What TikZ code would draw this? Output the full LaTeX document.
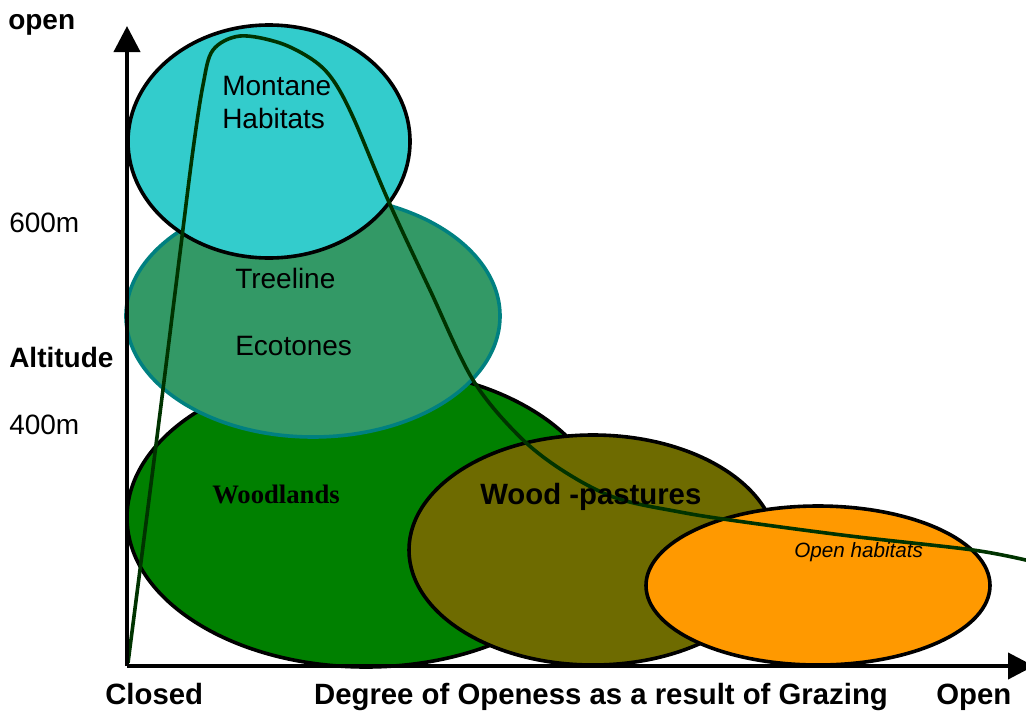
\documentclass[tikz,border=0pt]{standalone}
\usepackage{fontspec}
\setmainfont{Liberation Sans}
\newfontfamily\serifbold{Liberation Serif}
\usetikzlibrary{arrows.meta}
\definecolor{montane}{RGB}{51,204,204}
\definecolor{treeline}{RGB}{51,153,102}
\definecolor{treeedge}{RGB}{0,128,128}
\definecolor{woodland}{RGB}{0,128,0}
\definecolor{pasture}{RGB}{110,107,0}
\definecolor{openhab}{RGB}{255,153,0}
\definecolor{trend}{RGB}{0,51,0}
\begin{document}
\begin{tikzpicture}[x=0.75pt, y=-0.75pt,
	habitat/.style={line width=2.7pt, draw=black},
	axis/.style={line width=3pt, -{Triangle[width=19.5pt, length=19.5pt]}},
	big/.style={font=\fontsize{21}{25}\selectfont, inner sep=0pt, anchor=base west},
	bigbold/.style={big, font=\fontsize{21}{25}\selectfont\bfseries},
	axislabel/.style={big, font=\fontsize{22}{26}\selectfont\bfseries}]
			%%%%% START %%%%%
			
			\useasboundingbox (0, 0) rectangle (1026, 711);
			
			\draw[habitat, fill=woodland] (366, 517.5) ellipse (239 and 149.5);
			\draw[habitat, fill=treeline, draw=treeedge] (313, 316) ellipse (187 and 121);
			\draw[habitat, fill=montane] (269, 141.5) ellipse (141 and 116.5);
			\draw[habitat, fill=pasture] (593, 550) ellipse (184 and 115);
			\draw[habitat, fill=openhab] (818, 585.5) ellipse (172 and 79.5);
			
			\draw[line width=2.7pt, color=trend, line join=round] plot[smooth, tension=0.55] coordinates {
				(128, 663) (157, 437) (180, 253) (193, 150) (203, 85) (213, 50) (240, 36)
				(280, 43) (313, 60) (333, 80) (353, 117) (388, 200) (430, 290) (473, 380)
				(520, 437) (565, 472) (616, 498) (680, 512) (737, 521) (850, 536) (973, 550) (1030, 561)};
			
			\coordinate (origin) at (127, 666);
			\coordinate (ytip) at (127, 26);
			\coordinate (xtip) at (1034, 666);
			\draw[axis] (origin) -- (ytip);
			\draw[axis] (origin) -- (xtip);
			
			\node[bigbold] (open) at (8, 29) {open};
			\node[big] (m600) at (9, 232) {600m};
			\node[bigbold] (altitude) at (9, 367) {Altitude};
			\node[big] (m400) at (9, 434) {400m};
			
			\node[axislabel] (closed) at (105, 704) {Closed};
			\node[axislabel, anchor=base] (degree) at (601, 704) {Degree of Openess as a result of Grazing};
			\node[axislabel] (openend) at (936, 704) {Open};
			
			\node[big] (montaneA) at (222, 95) {Montane};
			\node[big] (montaneB) at (222, 128) {Habitats};
			\node[big] (treelineA) at (235, 288) {Treeline};
			\node[big] (treelineB) at (235, 355) {Ecotones};
			\node[big, font=\fontsize{20}{24}\serifbold\bfseries] (woodlands) at (212, 503) {Woodlands};
			\node[axislabel] (pastures) at (480, 504) {Wood -pastures};
			\node[big, font=\fontsize{15.5}{18}\selectfont\itshape] (openhabitats) at (794, 557) {Open habitats};
			
			%%%%% END %%%%%
\end{tikzpicture}
\end{document}
